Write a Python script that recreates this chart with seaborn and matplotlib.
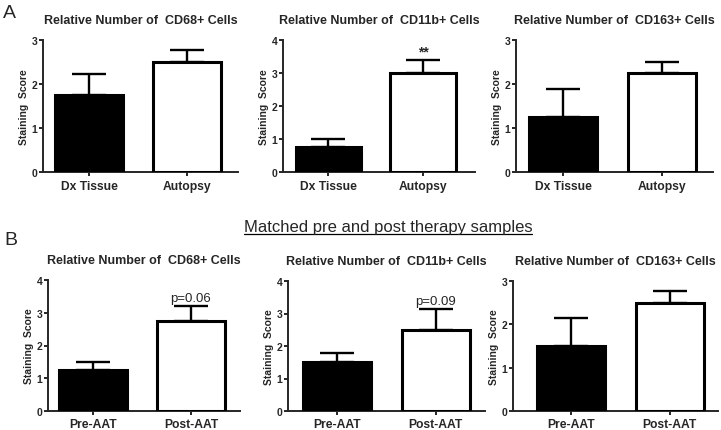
import numpy as np
import pandas as pd
import seaborn as sns
import matplotlib.pyplot as plt
from matplotlib.lines import Line2D

# datos de cada panel
cats_a = ['Dx Tissue', 'Autopsy']
cats_b = ['Pre-AAT', 'Post-AAT']
titles = ['Relative Number of  CD68+ Cells',
          'Relative Number of  CD11b+ Cells',
          'Relative Number of  CD163+ Cells']

a_cd68 = [1.75, 2.5]
a_cd68_err = [0.47, 0.28]
a_cd11b = [0.75, 3.0]
a_cd11b_err = [0.25, 0.4]
a_cd163 = [1.25, 2.25]
a_cd163_err = [0.63, 0.25]

b_cd68 = [1.25, 2.75]
b_cd68_err = [0.25, 0.47]
b_cd11b = [1.5, 2.5]
b_cd11b_err = [0.28, 0.64]
b_cd163 = [1.5, 2.5]
b_cd163_err = [0.65, 0.28]

ymax = [3, 4, 3, 4, 4, 3]
notes = [None, '**', None, 'p=0.06', 'p=0.09', None]

sns.set_style('ticks')
plt.rcParams['font.family'] = ['Liberation Sans', 'DejaVu Sans']

W, H = 721, 431
fig = plt.figure(figsize=(W / 100, H / 100), dpi=100)

# (izq, der, arriba, abajo) en pixeles, y xlim
layout = [
    ((43, 238, 41, 173), (-0.47, 1.52)),
    ((283, 475, 41, 173), (-0.48, 1.55)),
    ((516, 713, 41, 173), (-0.48, 1.52)),
    ((48, 240, 281, 412), (-0.46, 1.50)),
    ((288, 485, 282, 412), (-0.50, 1.50)),
    ((513, 718, 282, 412), (-0.59, 1.49)),
]

panels = [
    (cats_a, a_cd68, a_cd68_err, titles[0]),
    (cats_a, a_cd11b, a_cd11b_err, titles[1]),
    (cats_a, a_cd163, a_cd163_err, titles[2]),
    (cats_b, b_cd68, b_cd68_err, titles[0]),
    (cats_b, b_cd11b, b_cd11b_err, titles[1]),
    (cats_b, b_cd163, b_cd163_err, titles[2]),
]

for i, (cats, vals, errs, title) in enumerate(panels):
    (l, r, t, b), xlim = layout[i]
    ax = fig.add_axes([l / W, 1 - b / H, (r - l) / W, (b - t) / H])
    df = pd.DataFrame({'cat': cats, 'val': vals})
    sns.barplot(data=df, x='cat', y='val', hue='cat', palette=['black', 'white'],
                legend=False, edgecolor='black', linewidth=2.2, width=0.69,
                errorbar=None, ax=ax, zorder=3)
    x = np.arange(len(cats))
    ax.errorbar(x, vals, yerr=[np.zeros(len(errs)), errs], fmt='none',
                ecolor='black', elinewidth=1.7, capsize=12, capthick=1.7, zorder=2)
    ax.set_xlim(*xlim)
    ax.set_ylim(0, ymax[i])
    ax.set_yticks(range(ymax[i] + 1))
    ax.set_xlabel('')
    ax.set_ylabel('Staining  Score', fontsize=7.5, fontweight='bold', labelpad=2)
    ax.set_title(title, fontsize=9, fontweight='bold', pad=12)
    ax.tick_params(axis='both', width=1.4, length=3)
    ax.tick_params(axis='y', labelsize=7.5, pad=1)
    ax.tick_params(axis='x', labelsize=8.7, pad=3 if i < 3 else 2)
    for lab in ax.get_xticklabels() + ax.get_yticklabels():
        lab.set_fontweight('bold')
    sns.despine(ax=ax)
    for s in ['left', 'bottom']:
        ax.spines[s].set_linewidth(1.4)
    if notes[i] is not None:
        top = vals[1] + errs[1]
        if notes[i] == '**':
            ax.text(1, top + 0.05, notes[i], ha='center', va='bottom',
                    fontsize=10, fontweight='bold')
        else:
            ax.text(1, top + 0.06, notes[i], ha='center', va='bottom', fontsize=9.5)

fig.text(3 / W, 1 - 5 / H, 'A', fontsize=14, va='top', ha='left')
fig.text(4 / W, 1 - 232 / H, 'B', fontsize=14, va='top', ha='left')

head = fig.text(388 / W, 1 - 228 / H, 'Matched pre and post therapy samples',
                fontsize=12, ha='center', va='center')
fig.canvas.draw()
bb = head.get_window_extent(fig.canvas.get_renderer())
uy = (bb.y0 + 1) / H
fig.add_artist(Line2D([bb.x0 / W, bb.x1 / W], [uy, uy], color='black',
                      linewidth=0.9, transform=fig.transFigure))

fig.savefig('out.png', dpi=100)
